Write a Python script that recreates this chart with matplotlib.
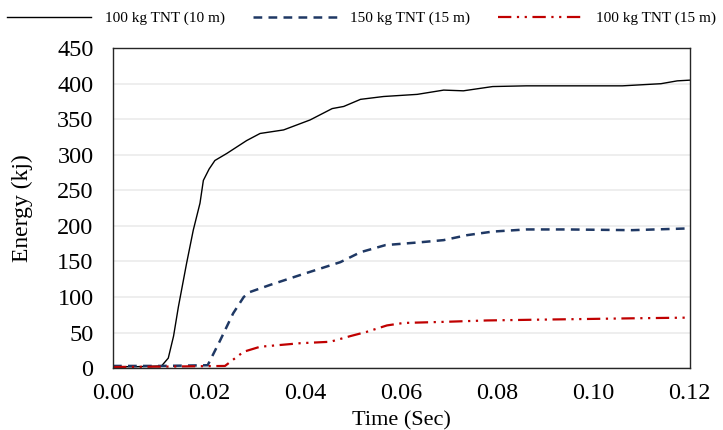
import matplotlib.pyplot as plt

plt.rcParams['font.family'] = ['Liberation Serif', 'DejaVu Serif']

# ── Data ──────────────────────────────────────────────────────────────────────
t_a = [0.0, 0.005, 0.0101, 0.0115, 0.0126, 0.0136, 0.0153, 0.0167, 0.0181,
       0.0188, 0.0200, 0.0212, 0.0237, 0.0278, 0.0306, 0.0355, 0.041, 0.0456,
       0.048, 0.0515, 0.0563, 0.0633, 0.0688, 0.0729, 0.079, 0.086, 0.106,
       0.114, 0.1174, 0.12]
e_a = [2, 2, 3, 14, 45, 86, 147, 194, 232, 264, 280, 292, 302, 320, 330,
       335, 349, 365, 368, 378, 382, 385, 391, 390, 396, 397, 397, 400, 404, 405]

t_b = [0.0, 0.01, 0.0197, 0.0223, 0.025, 0.0272, 0.0285, 0.0327, 0.039,
       0.0473, 0.0515, 0.0567, 0.064, 0.0688, 0.0737, 0.079, 0.086, 0.0945,
       0.108, 0.12]
e_b = [3, 3, 4, 39, 77, 100, 107, 117, 131, 149, 163, 173, 177, 180, 187,
       192, 195, 195, 194, 196.5]

t_c = [0.0, 0.01, 0.0233, 0.0258, 0.0272, 0.0306, 0.039, 0.0452, 0.0494,
       0.0528, 0.057, 0.0605, 0.0688, 0.0778, 0.0875, 0.098, 0.108, 0.12]
e_c = [1.5, 2, 3, 16, 23, 30, 35, 37, 45, 51, 60, 63.5, 65, 67, 68, 69, 70, 71]

labels = ['100 kg TNT (10 m)', '150 kg TNT (15 m)', '100 kg TNT (15 m)']
xticks = [0, 0.02, 0.04, 0.06, 0.08, 0.10, 0.12]

# ── Figure ────────────────────────────────────────────────────────────────────
fig = plt.figure(figsize=(7.23, 4.3), dpi=100)
ax = fig.add_axes([0.1563, 0.144, 0.7977, 0.744])

ax.plot(t_a, e_a, color='black', lw=1.0, label=labels[0])
ax.plot(t_b, e_b, color='#1f3864', lw=1.8, ls=(0, (3.5, 2.5)), label=labels[1])
ax.plot(t_c, e_c, color='#c00000', lw=1.6,
        ls=(0, (6, 2.5, 1, 2.5, 1, 2.5)), label=labels[2])

ax.set_xlim(0, 0.12)
ax.set_ylim(0, 450)
ax.set_xticks(xticks)
ax.set_xticklabels([f'{v:.2f}' for v in xticks])
ax.set_yticks(range(0, 451, 50))
ax.tick_params(labelsize=17.5, length=0)
ax.tick_params(axis='y', pad=14)
ax.tick_params(axis='x', pad=11)
ax.yaxis.grid(True, color='#ebebeb', lw=1.2)
ax.set_axisbelow(True)
for s in ax.spines.values():
    s.set_color('#262626')
    s.set_linewidth(1.0)

ax.set_xlabel('Time (Sec)', fontsize=16, labelpad=5)
ax.set_ylabel('Energy (kj)', fontsize=17, labelpad=17)

fig.legend(loc='upper center', bbox_to_anchor=(0.5, 1.005), ncol=3,
           frameon=False, fontsize=11, handlelength=5.5, columnspacing=1.8,
           handletextpad=0.9)

plt.savefig('out.png', dpi=100)
plt.close()
